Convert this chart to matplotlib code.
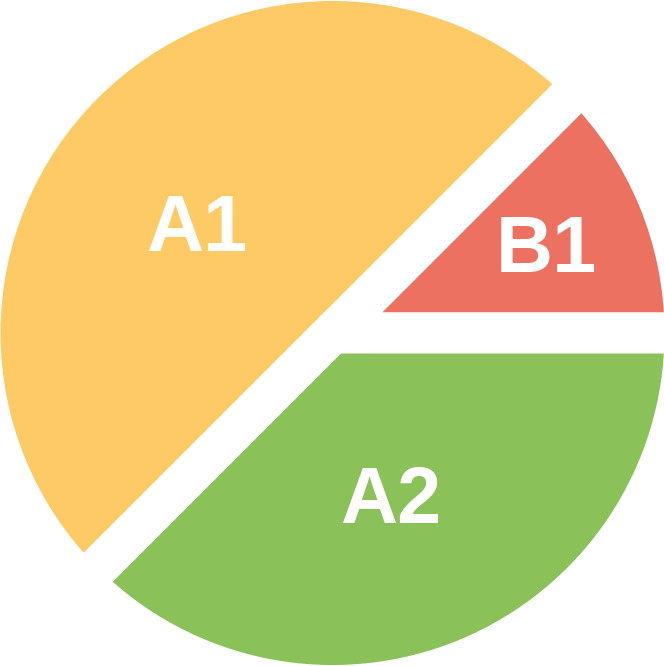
import numpy as np
import matplotlib.pyplot as plt
from matplotlib.transforms import offset_copy

# slices, counter-clockwise from 3 o'clock
labels = ['B1', 'A1', 'A2']
values = [12.5, 50, 37.5]
colors = ['#EC7161', '#FDCA65', '#8AC159']

# where the label sits in each slice (degrees, fraction of radius)
label_angle = [22.4, 141.4, -70.5]
label_r = [0.655, 0.492, 0.492]

dpi = 100
fig = plt.figure(figsize=(6.64, 6.66), dpi=dpi)
ax = fig.add_axes([0, 0, 1, 1])

gap_px = 41
R_px = 352.5
wedges, _ = ax.pie(values, colors=colors, startangle=0, counterclock=True,
                   radius=1, wedgeprops=dict(edgecolor='white', linewidth=gap_px * 72 / dpi))

cx, cy = 332.5, 333
ax.set_xlim(-cx / R_px, (664 - cx) / R_px)
ax.set_ylim(-(666 - cy) / R_px, cy / R_px)
ax.set_aspect('auto')
ax.axis('off')

# va='center' counts the descent, push glyphs down a bit
tr = offset_copy(ax.transData, fig=fig, x=0, y=-6, units='dots')
for lab, a, r in zip(labels, label_angle, label_r):
    t = np.deg2rad(a)
    ax.text(r * np.cos(t), r * np.sin(t), lab, ha='center', va='center', transform=tr,
            color='white', fontsize=57, fontweight='bold', family='Liberation Sans')

fig.savefig('out.png', dpi=dpi)
